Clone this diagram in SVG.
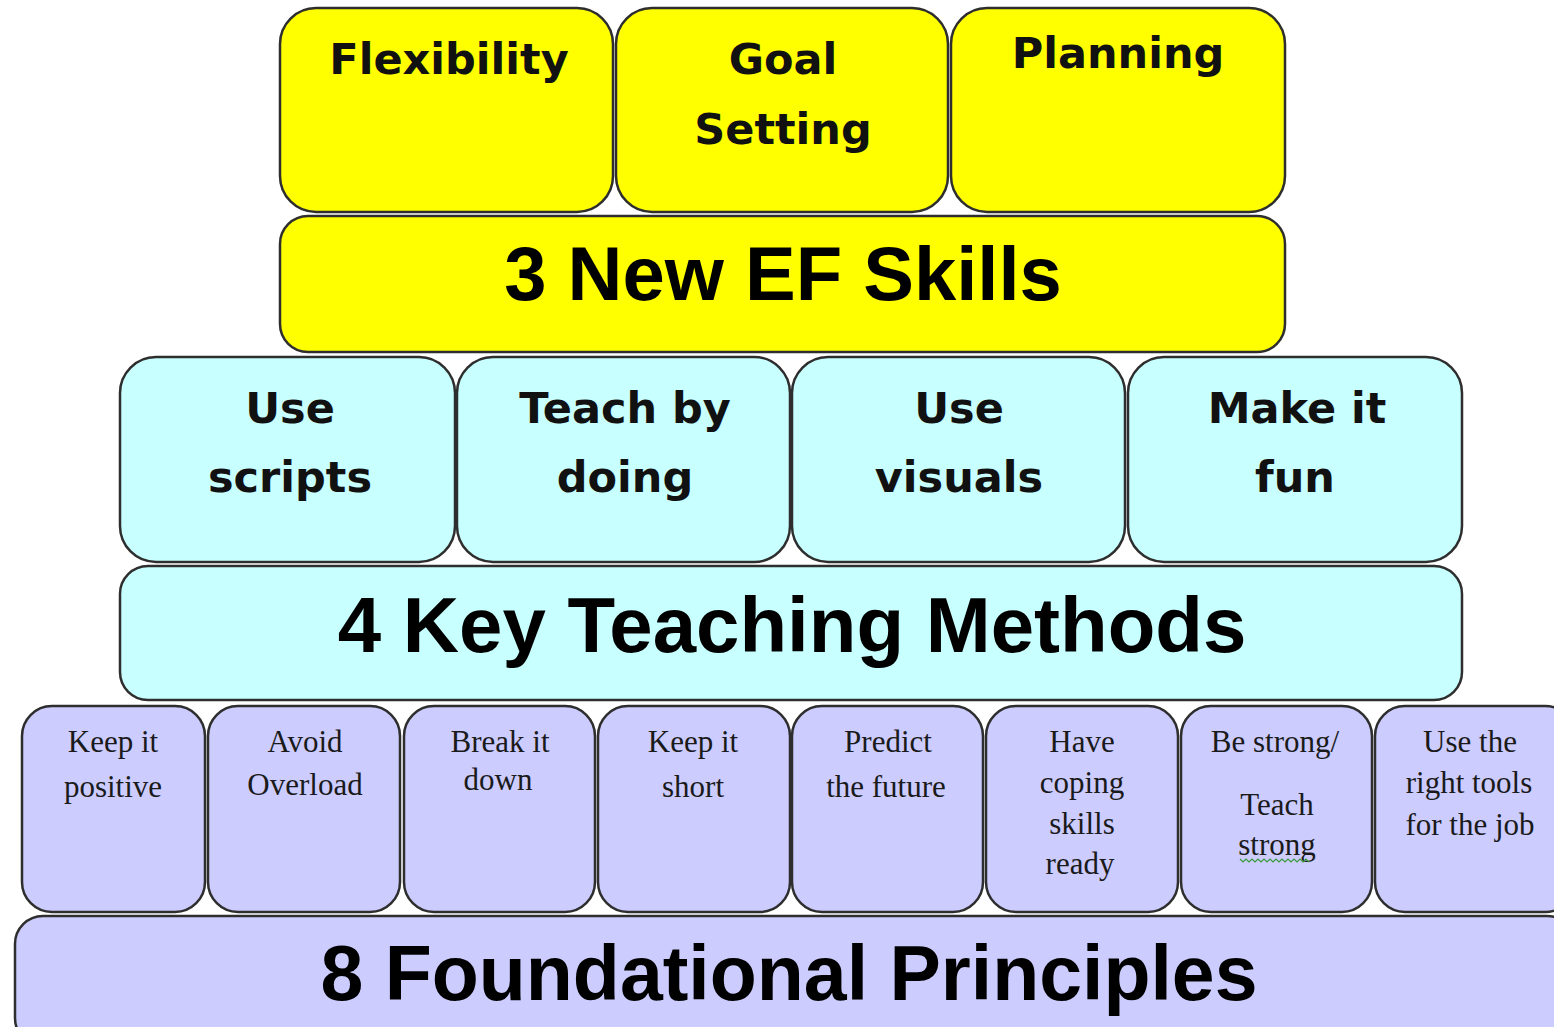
<svg xmlns="http://www.w3.org/2000/svg" width="1554" height="1027" viewBox="0 0 1554 1027">
  <style>
    .box { stroke: #2e2e2e; stroke-width: 2.5; }
    .yel { fill: #ffff00; }
    .cyan { fill: #c8ffff; }
    .lav { fill: #ccccff; }
    .head { font-family: "DejaVu Sans", Verdana, sans-serif; font-weight: bold; font-size: 43px; fill: #111; text-anchor: middle; }
    .base { font-family: "Liberation Sans", Arial, sans-serif; font-weight: bold; fill: #000; text-anchor: middle; }
    .small { font-family: "Liberation Serif", "Times New Roman", serif; font-size: 31px; fill: #1a1a1a; text-anchor: middle; }
  </style>
  <rect width="1554" height="1027" fill="#ffffff"/>

  <!-- Level 3: executive function skills -->
  <g id="flexibility">
    <rect class="box yel" x="280" y="8" width="333" height="204" rx="36"/>
    <text class="head" x="449" y="74">Flexibility</text>
  </g>
  <g id="goal-setting">
    <rect class="box yel" x="616" y="8" width="332" height="204" rx="36"/>
    <text class="head" x="783" y="74">Goal</text>
    <text class="head" x="783" y="144">Setting</text>
  </g>
  <g id="planning">
    <rect class="box yel" x="951" y="8" width="334" height="204" rx="36"/>
    <text class="head" x="1118" y="68">Planning</text>
  </g>
  <g id="ef-skills">
    <rect class="box yel" x="280" y="216" width="1005" height="136" rx="28"/>
    <text class="base" x="783" y="300" font-size="76">3 New EF Skills</text>
  </g>

  <!-- Level 2: teaching methods -->
  <g id="use-scripts">
    <rect class="box cyan" x="120" y="357" width="335" height="205" rx="36"/>
    <text class="head" x="290" y="423">Use</text>
    <text class="head" x="290" y="492">scripts</text>
  </g>
  <g id="teach-by-doing">
    <rect class="box cyan" x="457" y="357" width="333" height="205" rx="36"/>
    <text class="head" x="625" y="423">Teach by</text>
    <text class="head" x="625" y="492">doing</text>
  </g>
  <g id="use-visuals">
    <rect class="box cyan" x="792" y="357" width="333" height="205" rx="36"/>
    <text class="head" x="959" y="423">Use</text>
    <text class="head" x="959" y="492">visuals</text>
  </g>
  <g id="make-it-fun">
    <rect class="box cyan" x="1128" y="357" width="334" height="205" rx="36"/>
    <text class="head" x="1297" y="423">Make it</text>
    <text class="head" x="1295" y="492">fun</text>
  </g>
  <g id="teaching-methods">
    <rect class="box cyan" x="120" y="566" width="1342" height="134" rx="28"/>
    <text class="base" x="792" y="652" font-size="78">4 Key Teaching Methods</text>
  </g>

  <!-- Level 1: foundational principles -->
  <g id="keep-positive">
    <rect class="box lav" x="22" y="706" width="183" height="206" rx="30"/>
    <text class="small" x="113" y="752">Keep it</text>
    <text class="small" x="113" y="797">positive</text>
  </g>
  <g id="avoid-overload">
    <rect class="box lav" x="208" y="706" width="192" height="206" rx="30"/>
    <text class="small" x="305" y="752">Avoid</text>
    <text class="small" x="305" y="795">Overload</text>
  </g>
  <g id="break-it-down">
    <rect class="box lav" x="404" y="706" width="191" height="206" rx="30"/>
    <text class="small" x="500" y="752">Break it</text>
    <text class="small" x="498" y="790">down</text>
  </g>
  <g id="keep-short">
    <rect class="box lav" x="598" y="706" width="192" height="206" rx="30"/>
    <text class="small" x="693" y="752">Keep it</text>
    <text class="small" x="693" y="797">short</text>
  </g>
  <g id="predict-future">
    <rect class="box lav" x="792" y="706" width="191" height="206" rx="30"/>
    <text class="small" x="888" y="752">Predict</text>
    <text class="small" x="886" y="797">the future</text>
  </g>
  <g id="coping-skills">
    <rect class="box lav" x="986" y="706" width="192" height="206" rx="30"/>
    <text class="small" x="1082" y="752">Have</text>
    <text class="small" x="1082" y="793">coping</text>
    <text class="small" x="1082" y="834">skills</text>
    <text class="small" x="1080" y="874">ready</text>
  </g>
  <g id="be-strong">
    <rect class="box lav" x="1181" y="706" width="191" height="206" rx="30"/>
    <text class="small" x="1275" y="752">Be strong/</text>
    <text class="small" x="1277" y="815">Teach</text>
    <text class="small" x="1277" y="855">strong</text>
    <path d="M1240 859 l3 3 l3 -3 l3 3 l3 -3 l3 3 l3 -3 l3 3 l3 -3 l3 3 l3 -3 l3 3 l3 -3 l3 3 l3 -3 l3 3 l3 -3 l3 3 l3 -3 l3 3 l3 -3 l3 3 l3 -3 l3 3" fill="none" stroke="#3a9a3a" stroke-width="1.2"/>
  </g>
  <g id="right-tools">
    <rect class="box lav" x="1375" y="706" width="200" height="206" rx="30"/>
    <text class="small" x="1470" y="752">Use the</text>
    <text class="small" x="1469" y="793">right tools</text>
    <text class="small" x="1470" y="835">for the job</text>
  </g>
  <g id="foundational-principles">
    <rect class="box lav" x="15" y="916" width="1560" height="130" rx="28"/>
    <text class="base" x="789" y="1000" font-size="77">8 Foundational Principles</text>
  </g>

  <!-- stacked layers have no connecting lines -->
  <g id="connectors"/>
</svg>
